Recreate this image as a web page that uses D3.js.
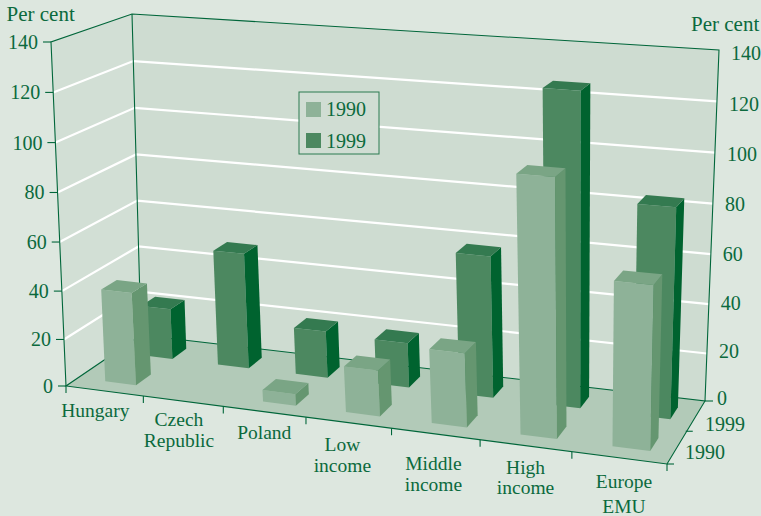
<!DOCTYPE html>
<html>
<head>
<meta charset="utf-8">
<script src="https://cdn.jsdelivr.net/npm/d3@7"></script>
<style>
html, body { margin: 0; padding: 0; background: #dde7df; }
svg { display: block; }
text { font-family: "Liberation Serif", serif; fill: #0b6a3d; }
</style>
</head>
<body>
<svg id="chart" width="761" height="516"></svg>
<script>
var categories = [['Hungary'], ['Czech', 'Republic'], ['Poland'], ['Low', 'income'], ['Middle', 'income'], ['High', 'income'], ['Europe', 'EMU']];
var years = ['1990', '1999'];
var values1990 = [39, null, 5, 19, 30, 101, 64];
var values1999 = [22, 49, 20, 19, 58, 126, 84];
var valueTicks = [0, 20, 40, 60, 80, 100, 120, 140];

var WIDTH = 761, HEIGHT = 516;
var DARK = '#00663a';

// corners of the box on screen
var floorCorners = [[66, 386], [667, 464], [705, 401], [141, 335]];
var topCorners = [[51, 42], [677, 88], [719, 50], [132, 14]];

// unit square to quad
function homography(q) {
  var x0 = q[0][0], y0 = q[0][1], x1 = q[1][0], y1 = q[1][1], x2 = q[2][0], y2 = q[2][1], x3 = q[3][0], y3 = q[3][1];
  var dx1 = x1 - x2, dx2 = x3 - x2, sx = x0 - x1 + x2 - x3;
  var dy1 = y1 - y2, dy2 = y3 - y2, sy = y0 - y1 + y2 - y3;
  var den = dx1 * dy2 - dx2 * dy1;
  var g = (sx * dy2 - dx2 * sy) / den;
  var h = (dx1 * sy - sx * dy1) / den;
  var a = x1 - x0 + g * x1, b = x3 - x0 + h * x3, d = y1 - y0 + g * y1, e = y3 - y0 + h * y3;
  return function(u, v) {
    var w = g * u + h * v + 1;
    return [(a * u + b * v + x0) / w, (d * u + e * v + y0) / w];
  };
}
var floorH = homography(floorCorners);
var topH = homography(topCorners);

var xCell = d3.scaleBand().domain(d3.range(categories.length)).range([0, 1]);
var zCell = d3.scaleBand().domain(years).range([0, 1]);
// slightly stretched upwards, as in the picture
var yFrac = d3.scalePow().exponent(1.028).domain([0, 140]).range([0, 1]);

// u along categories, d into the page, val in per cent
function project(u, d, val) {
  var a = floorH(u, d), b = topH(u, d), t = yFrac(val);
  return [a[0] + (b[0] - a[0]) * t, a[1] + (b[1] - a[1]) * t];
}

var svg = d3.select('#chart');
var line = d3.line();
function poly(sel, pts, fill) {
  return sel.append('path').attr('d', line(pts) + 'Z').attr('fill', fill).attr('stroke', 'none');
}
function seg(pts, color, w) {
  return svg.append('path').attr('d', line(pts)).attr('fill', 'none').attr('stroke', color).attr('stroke-width', w);
}

// walls and floor
poly(svg, [project(0, 0, 0), project(0, 1, 0), project(0, 1, 140), project(0, 0, 140)], '#d2dfd5');
poly(svg, [project(0, 1, 0), project(1, 1, 0), project(1, 1, 140), project(0, 1, 140)], '#cedcd1');
poly(svg, [project(0, 0, 0), project(1, 0, 0), project(1, 1, 0), project(0, 1, 0)], '#b2cab8');

// gridlines
valueTicks.slice(1, -1).forEach(function(t) {
  seg([project(0, 0, t), project(0, 1, t), project(1, 1, t)], '#ffffff', 2.2);
});

// box outline
seg([project(0, 0, 0), project(0, 0, 140), project(0, 1, 140), project(1, 1, 140), project(1, 1, 0)], DARK, 1.1);
seg([project(0, 1, 140), project(0, 1, 0), project(1, 1, 0), project(1, 0, 0), project(0, 0, 0), project(0, 1, 0)], DARK, 1.1);

// value ticks and labels
valueTicks.forEach(function(t) {
  var p = project(0, 0, t);
  seg([[p[0] - 8, p[1]], p], DARK, 1.1);
  svg.append('text').attr('x', p[0] - 13).attr('y', p[1]).attr('dy', '0.35em')
    .attr('text-anchor', 'end').attr('font-size', 20).text(t);
  var r = project(1, 1, t);
  svg.append('text').attr('x', r[0] + 12).attr('y', r[1] - 3 + 6 * t / 140).attr('dy', '0.35em')
    .attr('font-size', 20).text(t);
});
svg.append('text').attr('x', 6.5).attr('y', 21).attr('font-size', 21).text('Per cent');
svg.append('text').attr('x', 691).attr('y', 31).attr('font-size', 21).text('Per cent');

// category ticks and labels
var labelDx = [-9, -4, 0, -6, -2, 0, 5];
var labelDy = [26, 25, 27, 28, 36, 28, 30];
var labelGap = [0, 21, 0, 21, 21, 20, 25];
d3.range(categories.length + 1).forEach(function(i) {
  var p = project(i / categories.length, 0, 0);
  seg([p, [p[0], p[1] + 7]], DARK, 1.1);
});
categories.forEach(function(lines, i) {
  var p = project(xCell(i) + xCell.bandwidth() / 2, 0, 0);
  lines.forEach(function(s, k) {
    svg.append('text').attr('x', p[0] + labelDx[i]).attr('y', p[1] + labelDy[i] + k * labelGap[i])
      .attr('text-anchor', 'middle').attr('font-size', 19.5).text(s);
  });
});

// depth axis
var dTick = project(1, 0.5, 0);
seg([[dTick[0] - 1, dTick[1]], [dTick[0] + 6, dTick[1]]], DARK, 1.1);
var fr = project(1, 0, 0), br = project(1, 1, 0);
seg([fr, [fr[0] + 7, fr[1]]], DARK, 1.1);
seg([br, [br[0] + 8, br[1]]], DARK, 1.1);
svg.append('text').attr('x', 705).attr('y', 424).attr('dy', '0.35em').attr('font-size', 20).text('1999');
svg.append('text').attr('x', 685).attr('y', 452).attr('dy', '0.35em').attr('font-size', 20).text('1990');

// legend
var legend = svg.append('g');
legend.append('rect').attr('x', 299).attr('y', 92).attr('width', 80).attr('height', 62)
  .attr('fill', '#d0ddd3').attr('stroke', '#2a7a50').attr('stroke-width', 1);
legend.append('rect').attr('x', 306).attr('y', 102).attr('width', 15).attr('height', 15).attr('fill', '#8eb298');
legend.append('rect').attr('x', 306).attr('y', 133).attr('width', 15).attr('height', 15).attr('fill', '#4c8860');
legend.append('text').attr('x', 326).attr('y', 116).attr('font-size', 20).text('1990');
legend.append('text').attr('x', 326).attr('y', 148).attr('font-size', 20).text('1999');

// bars, back row first
var barLo = 0.36, barHi = 0.76, depthLo = 0.3, depthHi = 0.7;
function drawBar(i, year, val, cols) {
  var u0 = xCell(i) + xCell.bandwidth() * barLo, u1 = xCell(i) + xCell.bandwidth() * barHi;
  var d0 = zCell(year) + zCell.bandwidth() * depthLo, d1 = zCell(year) + zCell.bandwidth() * depthHi;
  poly(svg, [project(u0, d0, 0), project(u1, d0, 0), project(u1, d0, val), project(u0, d0, val)], cols[0]);
  poly(svg, [project(u1, d0, 0), project(u1, d1, 0), project(u1, d1, val), project(u1, d0, val)], cols[1]);
  poly(svg, [project(u0, d0, val), project(u1, d0, val), project(u1, d1, val), project(u0, d1, val)], cols[2]);
}
values1999.forEach(function(v, i) {
  if (v != null) drawBar(i, '1999', v, ['#4c8860', '#00632f', '#347a50']);
});
values1990.forEach(function(v, i) {
  if (v != null) drawBar(i, '1990', v, ['#8eb298', '#659670', '#7aa585']);
});
</script>
</body>
</html>
